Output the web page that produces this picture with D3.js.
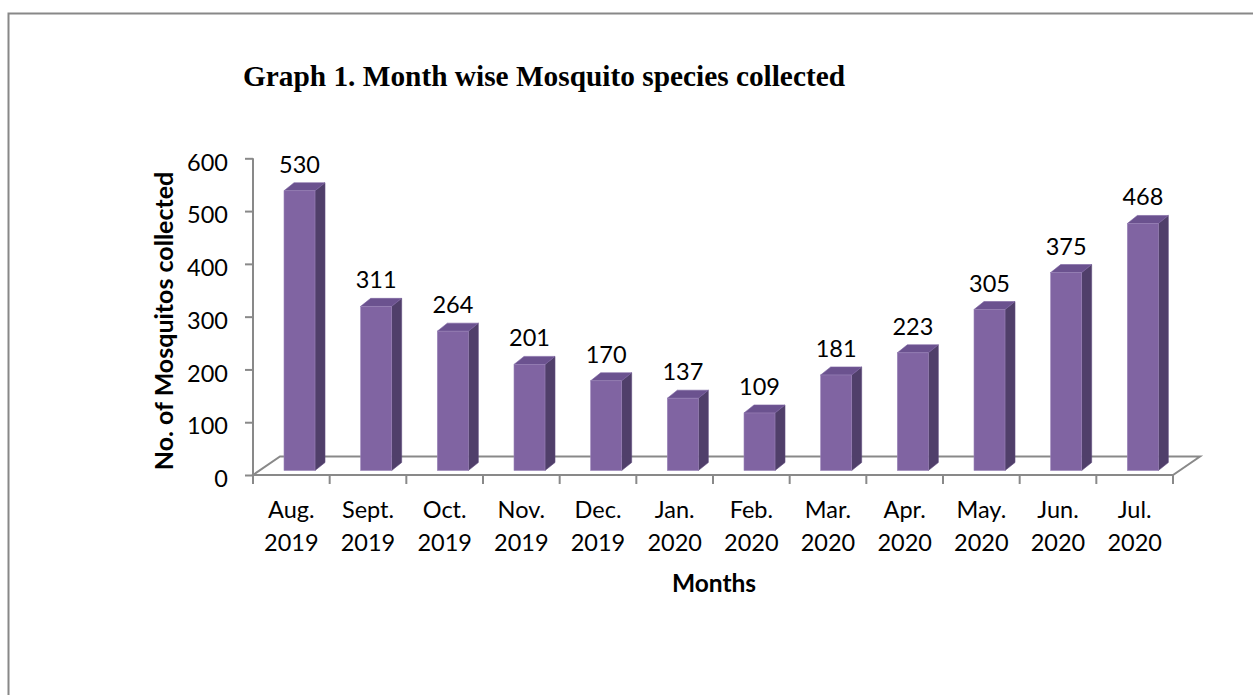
<!DOCTYPE html>
<html>
<head>
<meta charset="utf-8">
<script src="https://cdn.jsdelivr.net/npm/d3@7"></script>
<style>
  html, body { margin: 0; padding: 0; background: #fff; }
  svg { display: block; }
</style>
</head>
<body>
<svg id="chart" width="1253" height="695"></svg>
<script>
const months = ["Aug.", "Sept.", "Oct.", "Nov.", "Dec.", "Jan.", "Feb.", "Mar.", "Apr.", "May.", "Jun.", "Jul."];
const years  = ["2019", "2019", "2019", "2019", "2019", "2020", "2020", "2020", "2020", "2020", "2020", "2020"];
const counts = [530, 311, 264, 201, 170, 137, 109, 181, 223, 305, 375, 468];
const yTicks = [0, 100, 200, 300, 400, 500, 600];
const titleText = "Graph 1. Month wise Mosquito species collected";
const yTitle = "No. of Mosquitos collected";
const xTitle = "Months";

const svg = d3.select("#chart");
const font = "Lato, 'Open Sans', sans-serif";
const gridColor = "#898989";
const fs = 23.5;

// frame
svg.append("rect").attr("x", 8.5).attr("y", 13.5).attr("width", 1400).attr("height", 900)
  .attr("fill", "none").attr("stroke", "#888").attr("stroke-width", 2);

// title
svg.append("text").attr("x", 243).attr("y", 85.5)
  .attr("font-family", "'Liberation Serif', 'Times New Roman', serif")
  .attr("font-weight", "bold").attr("font-size", 29)
  .attr("textLength", 602).attr("lengthAdjust", "spacingAndGlyphs")
  .attr("fill", "#000").text(titleText);

const keys = months.map((m, i) => m + " " + years[i]);
const x = d3.scaleBand().domain(keys).range([253, 1173]).paddingInner(0).paddingOuter(0);
const y = d3.scaleLinear().domain([0, 600]).range([475, 158.3]);

const DX = 27, DY = 18.5; // floor depth
const bdx = 10, bdy = 8;   // bar depth
const barOff = 31, barW = 31, lift = 4.5;

// floor
const g = svg.append("g");
const x0 = 253, x1 = 1173, yf = y(0);
g.append("path")
  .attr("d", `M${x0},${yf} L${x0 + DX},${yf - DY} L${x1 + DX},${yf - DY} L${x1},${yf} Z`)
  .attr("fill", "none").attr("stroke", gridColor).attr("stroke-width", 2);

// y axis
const yAxis = d3.axisLeft(y).tickValues(yTicks).tickSize(8).tickPadding(17);
const ya = svg.append("g").attr("transform", "translate(253,0)").call(yAxis);
ya.select(".domain").attr("stroke", gridColor).attr("stroke-width", 2).attr("d", `M0,${y(600)}V${y(0)}`);
ya.selectAll(".tick line").attr("stroke", gridColor).attr("stroke-width", 2);
ya.selectAll(".tick text").attr("font-family", font).attr("font-size", fs).attr("fill", "#000")
  .attr("dy", "0.5em");

// x axis ticks
const xa = svg.append("g");
xa.selectAll("line").data(d3.range(keys.length + 1)).join("line")
  .attr("x1", i => x0 + i * x.bandwidth()).attr("x2", i => x0 + i * x.bandwidth())
  .attr("y1", yf).attr("y2", yf + 9).attr("stroke", gridColor).attr("stroke-width", 2);

const lbl = svg.append("g").attr("font-family", font).attr("font-size", fs).attr("fill", "#000").attr("text-anchor", "middle");
keys.forEach((k, i) => {
  const cx = x(k) + x.bandwidth() / 2;
  lbl.append("text").attr("x", cx).attr("y", 518).text(months[i]);
  lbl.append("text").attr("x", cx).attr("y", 551).text(years[i]);
});

// bars
const bars = svg.append("g");
keys.forEach((k, i) => {
  const v = counts[i];
  const xl = x(k) + barOff, xr = xl + barW;
  const yt = y(v) - lift, yb = y(0) - lift;
  bars.append("path")
    .attr("d", `M${xr},${yt} L${xr + bdx},${yt - bdy} L${xr + bdx},${yb - bdy} L${xr},${yb} Z`)
    .attr("fill", "#503F6A").attr("stroke", "#5E4A7C").attr("stroke-width", 0.6);
  bars.append("path")
    .attr("d", `M${xl},${yt} L${xl + bdx},${yt - bdy} L${xr + bdx},${yt - bdy} L${xr},${yt} Z`)
    .attr("fill", "#6B528F").attr("stroke", "#7A62A0").attr("stroke-width", 0.6);
  bars.append("rect").attr("x", xl).attr("y", yt).attr("width", barW).attr("height", yb - yt)
    .attr("fill", "#8064A2").attr("stroke", "#9A84B8").attr("stroke-width", 0.6);
  lbl.append("text").attr("x", xl + barW / 2).attr("y", yt - 18).text(v);
});

// axis titles
svg.append("text").attr("transform", "translate(173,321) rotate(-90)")
  .attr("text-anchor", "middle").attr("font-family", font).attr("font-weight", "bold")
  .attr("font-size", 25).attr("fill", "#000").text(yTitle);
svg.append("text").attr("x", 714).attr("y", 592)
  .attr("text-anchor", "middle").attr("font-family", font).attr("font-weight", "bold")
  .attr("font-size", 24.5).attr("fill", "#000").text(xTitle);
</script>
</body>
</html>
